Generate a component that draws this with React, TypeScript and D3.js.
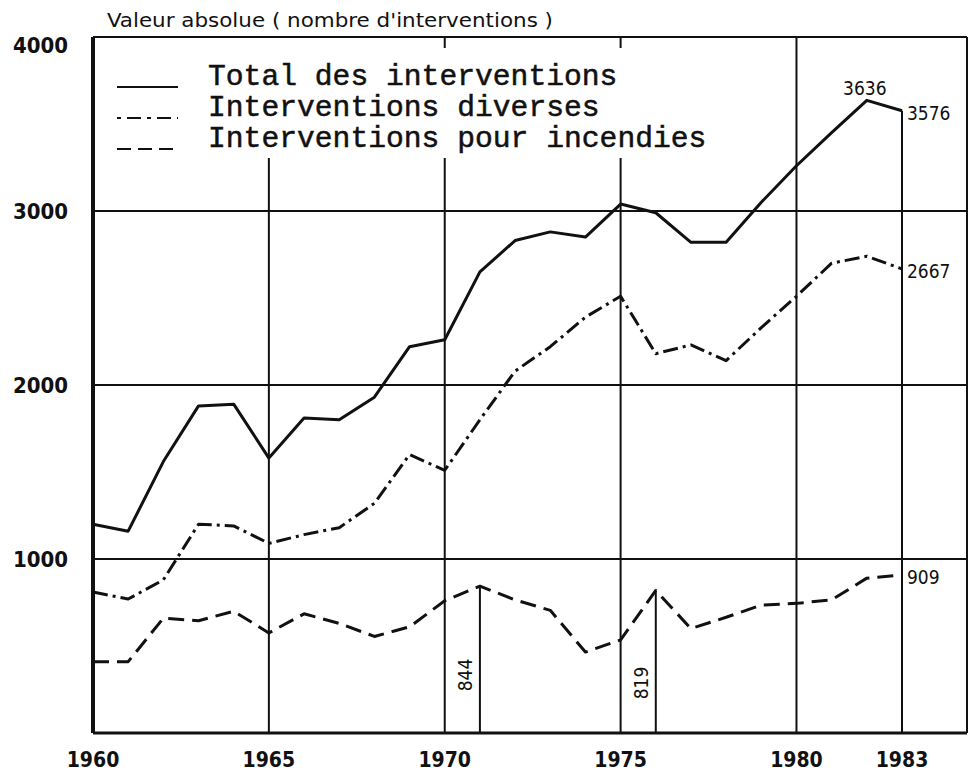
import React from 'react';
import * as d3 from 'd3';

const years = d3.range(1960, 1984);

const totalValues = [1200, 1160, 1560, 1880, 1890, 1580, 1810, 1800, 1930, 2220, 2260, 2650, 2830, 2880, 2850, 3040, 2990, 2820, 2820, 3050, 3260, 3450, 3636, 3576];
const diversesValues = [810, 770, 880, 1200, 1190, 1090, 1140, 1180, 1320, 1600, 1510, 1800, 2080, 2220, 2390, 2510, 2180, 2230, 2140, 2330, 2510, 2700, 2740, 2667];
const incendiesValues = [410, 410, 660, 645, 700, 575, 685, 630, 555, 610, 760, 844, 765, 705, 465, 535, 819, 600, 665, 735, 745, 765, 890, 909];

const yTicks = [1000, 2000, 3000, 4000];
const xTicks = [1960, 1965, 1970, 1975, 1980, 1983];

const legendLabels = ['Total des interventions', 'Interventions diverses', 'Interventions pour incendies'];

// annotated points: [year, series, value]
const callouts = [
  { year: 1982, value: 3636, label: '3636', pos: 'above' },
  { year: 1983, value: 3576, label: '3576', pos: 'right' },
  { year: 1983, value: 2667, label: '2667', pos: 'right' },
  { year: 1983, value: 909, label: '909', pos: 'right' },
];
const droplines = [
  { year: 1971, value: 844, label: '844' },
  { year: 1976, value: 819, label: '819' },
];

const W = 972;
const H = 771;
const left = 93;
const bottom = 733;
const top = 37;
const right = 967;

const sans = '"DejaVu Sans Condensed", "Liberation Sans", sans-serif';
const mono = '"Liberation Mono", "DejaVu Sans Mono", monospace';

export default function App() {
  const x = d3.scaleLinear().domain([1960, 1983]).range([left, 902]);
  const y = d3.scaleLinear().domain([0, 4000]).range([bottom, top]);

  const line = d3.line<number>()
    .x((_, i) => x(years[i]))
    .y(d => y(d));

  const series = [
    { values: totalValues, dash: 'none' },
    { values: diversesValues, dash: '15 5 3 5' },
    { values: incendiesValues, dash: '16 8' },
  ];

  // vertical grid line start (legend box leaves gaps at 1965..1975)
  const gridStart = (yr: number) => {
    if (yr === 1965 || yr === 1970 || yr === 1975) return 158;
    if (yr === 1983) return y(3576);
    return top;
  };

  return (
    <svg width={W} height={H} style={{ position: 'absolute', left: 0, top: 0, background: '#fff' }}>
      <text x={107} y={27} fontFamily={sans} fontSize={19} fill="#111" textLength={446} lengthAdjust="spacingAndGlyphs">
        Valeur  absolue ( nombre d'interventions )
      </text>

      {/* horizontal grid */}
      {yTicks.filter(t => t < 4000).map(t => (
        <line key={t} x1={left} x2={right} y1={y(t)} y2={y(t)} stroke="#111" strokeWidth={1.8} />
      ))}
      {/* vertical grid */}
      {xTicks.filter(t => t > 1960).map(t => (
        <line key={t} x1={x(t)} x2={x(t)} y1={gridStart(t)} y2={bottom} stroke="#111" strokeWidth={2} />
      ))}
      {/* short top ticks */}
      {[1970, 1975].map(t => (
        <line key={t} x1={x(t)} x2={x(t)} y1={top} y2={top + 11} stroke="#111" strokeWidth={2} />
      ))}
      {/* frame */}
      <line x1={left} x2={right} y1={top} y2={top} stroke="#111" strokeWidth={2} />
      <line x1={right} x2={right} y1={top} y2={bottom} stroke="#111" strokeWidth={2} />
      <line x1={left} x2={right} y1={bottom} y2={bottom} stroke="#111" strokeWidth={3} />
      <line x1={left} x2={left} y1={top} y2={bottom} stroke="#111" strokeWidth={4} />

      {/* y tick labels */}
      {yTicks.map(t => (
        <text key={t} x={68} y={t === 4000 ? 45 : y(t)} dy="0.36em" textAnchor="end" fontFamily={sans} fontWeight="bold" fontSize={22} fill="#111">
          {t}
        </text>
      ))}
      {/* x tick labels */}
      {xTicks.map(t => (
        <text key={t} x={x(t)} y={767} textAnchor="middle" fontFamily={sans} fontWeight="bold" fontSize={21} fill="#111">
          {t}
        </text>
      ))}

      {/* drop lines */}
      {droplines.map(d => (
        <g key={d.label}>
          <line x1={x(d.year)} x2={x(d.year)} y1={y(d.value)} y2={bottom} stroke="#111" strokeWidth={2} />
          <text transform={`translate(${x(d.year) - 15},${d.year === 1971 ? 675 : 683}) rotate(-90)`} textAnchor="middle" dy="0.36em" fontFamily={sans} fontSize={19} fill="#111">
            {d.label}
          </text>
        </g>
      ))}

      {/* series */}
      {series.map((s, i) => (
        <path key={i} d={line(s.values) ?? ''} fill="none" stroke="#111" strokeWidth={3} strokeDasharray={s.dash} strokeLinejoin="round" />
      ))}

      {/* callouts */}
      {callouts.map(c => (
        c.pos === 'above' ? (
          <text key={c.label} x={x(c.year) - 2} y={y(c.value) - 5} textAnchor="middle" fontFamily={sans} fontSize={19} fill="#111">{c.label}</text>
        ) : (
          <text key={c.label} x={x(c.year) + 5} y={y(c.value) + 2} dy="0.36em" fontFamily={sans} fontSize={19} fill="#111">{c.label}</text>
        )
      ))}

      {/* legend */}
      {legendLabels.map((lab, i) => {
        const ly = 87 + i * 31;
        return (
          <g key={lab}>
            <line x1={117} x2={178} y1={ly} y2={ly} stroke="#111" strokeWidth={2} strokeDasharray={series[i].dash === 'none' ? 'none' : i === 1 ? '4 6 14 6' : '14 7'} />
            <text x={208} y={ly - 2} fontFamily={mono} fontSize={29} fill="#111" stroke="#111" strokeWidth={0.5} textLength={lab.length * 17.8} lengthAdjust="spacingAndGlyphs">
              {lab}
            </text>
          </g>
        );
      })}
    </svg>
  );
}
